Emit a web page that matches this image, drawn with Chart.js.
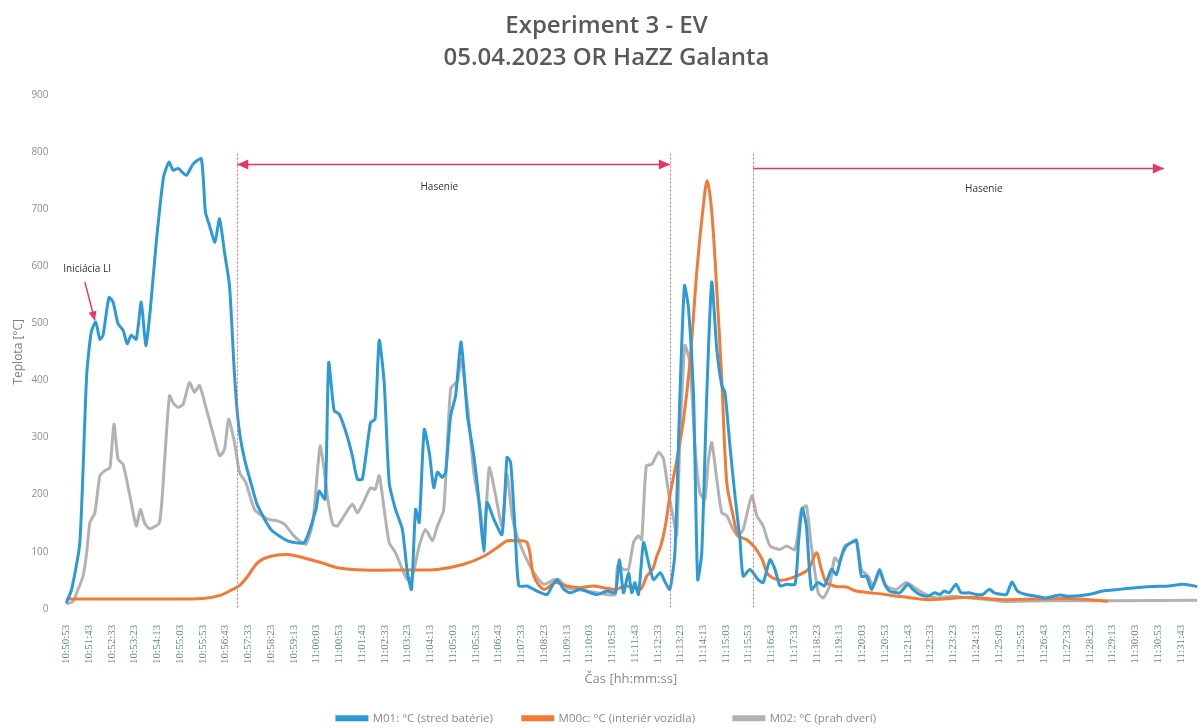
<!DOCTYPE html>
<html>
<head>
<meta charset="utf-8">
<script src="https://cdn.jsdelivr.net/npm/chart.js@4.4.1/dist/chart.umd.min.js"></script>
<style>
  html, body { margin: 0; padding: 0; background: #fff; }
  #wrap { width: 1202px; height: 728px; }
</style>
</head>
<body>
<div id="wrap"><canvas id="experiment-chart" width="1202" height="728"></canvas></div>
<script>
// time axis: seconds after 10:50:53
var startClock = 10 * 3600 + 50 * 60 + 53;
var tickStep = 50;
var tickCount = 50;

// M01: °C (stred batérie)
var m01Time = [0, 12, 30, 45, 55, 65, 74, 81, 94, 103, 114, 125, 134, 143, 154, 165, 175, 185, 198, 214, 226, 235, 246, 264, 279, 297, 306, 315, 327, 337, 348, 359, 370, 379, 392, 410, 421, 450, 487, 523, 549, 556, 569, 577, 589, 600, 615, 629, 640, 651, 669, 679, 688, 699, 710, 724, 739, 750, 759, 768, 776, 787, 798, 808, 816, 827, 834, 845, 856, 868, 882, 896, 907, 918, 925, 940, 958, 969, 977, 987, 995, 1013, 1035, 1057, 1068, 1079, 1094, 1108, 1130, 1152, 1167, 1189, 1207, 1216, 1225, 1236, 1243, 1250, 1258, 1269, 1280, 1291, 1306, 1317, 1327, 1338, 1349, 1359, 1368, 1379, 1388, 1397, 1408, 1419, 1430, 1441, 1448, 1459, 1470, 1481, 1488, 1503, 1521, 1532, 1547, 1558, 1569, 1583, 1602, 1610, 1618, 1627, 1638, 1653, 1667, 1682, 1693, 1704, 1715, 1726, 1737, 1748, 1759, 1770, 1777, 1788, 1799, 1810, 1832, 1850, 1861, 1876, 1894, 1909, 1920, 1930, 1941, 1956, 1967, 1985, 2000, 2015, 2029, 2040, 2058, 2067, 2079, 2091, 2110, 2132, 2154, 2183, 2205, 2248, 2278, 2314, 2351, 2387, 2424, 2457, 2486];
var m01Temp = [10, 34, 116, 409, 484, 502, 472, 479, 545, 537, 499, 488, 464, 479, 472, 537, 461, 525, 642, 756, 782, 768, 771, 759, 779, 788, 695, 671, 642, 683, 624, 566, 409, 321, 262, 209, 180, 139, 119, 116, 174, 206, 192, 431, 347, 341, 309, 268, 227, 227, 326, 332, 470, 396, 221, 174, 139, 63, 34, 174, 151, 314, 274, 212, 239, 230, 239, 338, 373, 467, 338, 268, 192, 101, 186, 157, 130, 265, 256, 133, 40, 40, 31, 25, 40, 51, 34, 28, 34, 28, 25, 31, 28, 86, 28, 63, 28, 46, 25, 116, 81, 51, 63, 46, 34, 98, 373, 566, 525, 373, 51, 98, 373, 572, 455, 391, 379, 285, 198, 121, 57, 69, 51, 46, 86, 69, 40, 43, 43, 120, 176, 145, 34, 46, 40, 69, 60, 92, 110, 116, 119, 57, 57, 34, 46, 69, 43, 31, 28, 43, 34, 25, 22, 28, 25, 31, 28, 43, 28, 28, 25, 25, 34, 28, 25, 25, 47, 31, 25, 22, 19, 24, 22, 25, 31, 34, 37, 39, 40, 43, 39];

// M00c: °C (interiér vozidla)
var m00Time = [0, 100, 200, 300, 340, 366, 380, 399, 421, 450, 487, 523, 560, 596, 655, 743, 816, 874, 918, 947, 969, 987, 1013, 1028, 1050, 1075, 1101, 1130, 1159, 1181, 1207, 1232, 1262, 1276, 1289, 1298, 1307, 1317, 1327, 1342, 1357, 1371, 1386, 1399, 1409, 1419, 1430, 1441, 1452, 1466, 1477, 1496, 1514, 1530, 1543, 1569, 1598, 1631, 1649, 1660, 1671, 1693, 1715, 1737, 1781, 1839, 1898, 1985, 2058, 2205, 2290];
var m00Temp = [17, 17, 17, 18, 24, 34, 40, 57, 81, 92, 95, 89, 81, 72, 68, 68, 69, 78, 92, 107, 119, 119, 116, 57, 34, 46, 40, 37, 40, 37, 34, 40, 34, 57, 69, 92, 110, 145, 198, 260, 332, 431, 589, 695, 750, 695, 560, 402, 221, 163, 128, 121, 107, 86, 60, 50, 55, 69, 98, 69, 46, 39, 38, 31, 27, 21, 16, 20, 16, 18, 13];

// M02: °C (prah dverí)
var m02Time = [0, 15, 26, 37, 45, 52, 63, 74, 85, 96, 105, 114, 125, 140, 154, 163, 172, 183, 205, 216, 227, 235, 246, 257, 271, 282, 293, 308, 322, 337, 348, 357, 370, 381, 395, 414, 443, 465, 480, 498, 512, 527, 542, 558, 567, 575, 586, 596, 611, 629, 640, 653, 669, 679, 688, 699, 710, 724, 739, 750, 761, 776, 790, 805, 816, 830, 845, 860, 868, 882, 896, 911, 918, 930, 944, 958, 969, 980, 991, 1009, 1028, 1050, 1072, 1083, 1101, 1123, 1145, 1167, 1189, 1207, 1212, 1225, 1236, 1247, 1258, 1265, 1275, 1287, 1302, 1313, 1324, 1335, 1342, 1349, 1360, 1371, 1382, 1393, 1404, 1411, 1419, 1430, 1441, 1452, 1466, 1477, 1488, 1507, 1518, 1532, 1547, 1569, 1583, 1602, 1616, 1627, 1638, 1653, 1664, 1678, 1689, 1700, 1711, 1726, 1737, 1748, 1763, 1774, 1788, 1803, 1825, 1846, 1865, 1883, 1912, 1949, 1985, 2029, 2058, 2150, 2300, 2486];
var m02Temp = [8, 13, 34, 57, 98, 151, 168, 233, 242, 247, 323, 262, 253, 198, 145, 174, 151, 140, 151, 256, 373, 361, 353, 358, 396, 379, 391, 350, 309, 268, 279, 332, 291, 239, 221, 174, 157, 154, 148, 130, 119, 113, 151, 285, 244, 192, 148, 145, 163, 183, 168, 186, 212, 209, 233, 174, 116, 98, 69, 51, 57, 110, 139, 119, 145, 174, 385, 399, 437, 356, 239, 168, 113, 247, 198, 145, 235, 163, 128, 92, 63, 43, 51, 51, 37, 34, 31, 28, 25, 25, 75, 69, 69, 116, 128, 121, 250, 253, 274, 262, 203, 157, 128, 297, 461, 431, 285, 203, 192, 256, 291, 227, 168, 163, 139, 128, 139, 198, 163, 145, 110, 104, 110, 104, 174, 180, 110, 28, 19, 40, 89, 81, 110, 116, 121, 69, 57, 40, 63, 40, 34, 46, 37, 28, 19, 22, 19, 16, 13, 14, 14, 15];

var yTicks = [0, 100, 200, 300, 400, 500, 600, 700, 800, 900];

// annotations (seconds / °C)
var quenchLines = [376, 1327, 1510];
var quenchArrows = [
    {from: 376, to: 1327, temp: 778, both: true, label: 'Hasenie', labelAt: 820, labelTemp: 738},
    {from: 1510, to: 2413, temp: 771, both: false, label: 'Hasenie', labelAt: 2017, labelTemp: 735}
];
var ignition = {label: 'Iniciácia LI', at: 46, temp: 595, arrowFrom: [41, 572], arrowTo: [63, 505]};

function toPoints(times, temps) {
    return times.map(function (t, i) { return {x: t, y: temps[i]}; });
}

function clockLabel(sec) {
    var s = startClock + Math.round(sec);
    var h = Math.floor(s / 3600), m = Math.floor(s / 60) % 60, ss = s % 60;
    return h + ':' + String(m).padStart(2, '0') + ':' + String(ss).padStart(2, '0');
}

function arrowHead(ctx, x, y, dir) {
    ctx.beginPath();
    ctx.moveTo(x, y);
    ctx.lineTo(x - dir * 11, y - 5);
    ctx.lineTo(x - dir * 11, y + 5);
    ctx.closePath();
    ctx.fill();
}

var notesPlugin = {
    id: 'notes',
    afterDatasetsDraw: function (chart) {
        var ctx = chart.ctx, x = chart.scales.x, y = chart.scales.y;
        ctx.save();
        // dotted lines
        ctx.strokeStyle = '#e56a95';
        ctx.lineWidth = 1;
        ctx.setLineDash([2, 2]);
        quenchLines.forEach(function (t) {
            var px = Math.round(x.getPixelForValue(t)) + 0.5;
            ctx.beginPath();
            ctx.moveTo(px, y.getPixelForValue(797));
            ctx.lineTo(px, y.getPixelForValue(0));
            ctx.stroke();
        });
        ctx.setLineDash([]);
        // arrows
        ctx.strokeStyle = '#e8346c';
        ctx.fillStyle = '#e8346c';
        ctx.lineWidth = 1.6;
        quenchArrows.forEach(function (a) {
            var x1 = x.getPixelForValue(a.from), x2 = x.getPixelForValue(a.to), py = y.getPixelForValue(a.temp);
            ctx.beginPath();
            ctx.moveTo(x1, py);
            ctx.lineTo(x2, py);
            ctx.stroke();
            arrowHead(ctx, x2, py, 1);
            if (a.both) arrowHead(ctx, x1, py, -1);
        });
        ctx.fillStyle = '#333';
        ctx.font = '10px "Open Sans"';
        ctx.textAlign = 'center';
        ctx.textBaseline = 'middle';
        quenchArrows.forEach(function (a) {
            ctx.fillText(a.label, x.getPixelForValue(a.labelAt), y.getPixelForValue(a.labelTemp));
        });
        // ignition note
        ctx.fillText(ignition.label, x.getPixelForValue(ignition.at), y.getPixelForValue(ignition.temp));
        var ax1 = x.getPixelForValue(ignition.arrowFrom[0]), ay1 = y.getPixelForValue(ignition.arrowFrom[1]);
        var ax2 = x.getPixelForValue(ignition.arrowTo[0]), ay2 = y.getPixelForValue(ignition.arrowTo[1]);
        ctx.strokeStyle = '#e8346c';
        ctx.fillStyle = '#e8346c';
        ctx.lineWidth = 1.5;
        ctx.beginPath();
        ctx.moveTo(ax1, ay1);
        ctx.lineTo(ax2, ay2);
        ctx.stroke();
        var ang = Math.atan2(ay2 - ay1, ax2 - ax1);
        ctx.beginPath();
        ctx.moveTo(ax2, ay2);
        ctx.lineTo(ax2 - 9 * Math.cos(ang) + 4 * Math.sin(ang), ay2 - 9 * Math.sin(ang) - 4 * Math.cos(ang));
        ctx.lineTo(ax2 - 9 * Math.cos(ang) - 4 * Math.sin(ang), ay2 - 9 * Math.sin(ang) + 4 * Math.cos(ang));
        ctx.closePath();
        ctx.fill();
        ctx.restore();
    }
};

var chartElement = document.getElementById('experiment-chart');
var ctx = chartElement.getContext('2d');
var chart = new Chart(ctx, {
    type: 'line',
    data: {
        datasets: [{
            label: 'M01: °C (stred batérie)',
            data: toPoints(m01Time, m01Temp),
            borderColor: '#2d9ad6',
            backgroundColor: '#2d9ad6',
            borderWidth: 3,
            pointRadius: 0,
            tension: 0.2
        }, {
            label: 'M00c: °C (interiér vozidla)',
            data: toPoints(m00Time, m00Temp),
            borderColor: '#f07a36',
            backgroundColor: '#f07a36',
            borderWidth: 3,
            pointRadius: 0,
            tension: 0.3
        }, {
            label: 'M02: °C (prah dverí)',
            data: toPoints(m02Time, m02Temp),
            borderColor: '#b2b2b2',
            backgroundColor: '#b2b2b2',
            borderWidth: 3,
            pointRadius: 0,
            tension: 0.2
        }]
    },
    options: {
        responsive: false,
        animation: false,
        layout: {padding: {left: 11, right: 0, top: 0, bottom: -6}},
        plugins: {
            title: {
                display: true,
                text: ['Experiment 3 - EV', '05.04.2023 OR HaZZ Galanta'],
                color: '#595959',
                font: {family: '"Open Sans"', size: 24, weight: '600', lineHeight: 1.35},
                padding: {top: 10, bottom: 20}
            },
            legend: {
                position: 'bottom',
                labels: {
                    color: '#8a8a8a',
                    boxWidth: 30,
                    boxHeight: 3,
                    padding: 6,
                    font: {family: '"Open Sans"', size: 11.5},
                    generateLabels: function (chart) {
                        var items = Chart.defaults.plugins.legend.labels.generateLabels(chart);
                        items.forEach(function (item, i) {
                            if (i === 0) item.text = item.text + '        ';
                            if (i === 1) item.text = item.text + '           ';
                        });
                        return items;
                    }
                }
            },
            tooltip: {enabled: false}
        },
        scales: {
            x: {
                type: 'linear',
                min: -8,
                max: 2490,
                grid: {display: false},
                border: {display: false},
                afterBuildTicks: function (axis) {
                    var list = [];
                    for (var i = 0; i < tickCount; i++) list.push({value: i * tickStep});
                    axis.ticks = list;
                },
                ticks: {
                    autoSkip: false,
                    maxRotation: 90,
                    minRotation: 90,
                    padding: 8,
                    color: '#5f8a7c',
                    font: {family: '"Liberation Serif"', size: 11},
                    callback: function (v) { return clockLabel(v); }
                },
                title: {
                    display: true,
                    text: 'Čas [hh:mm:ss]',
                    color: '#8a8a8a',
                    font: {family: '"Open Sans"', size: 13},
                    padding: {top: 0, bottom: 19}
                }
            },
            y: {
                min: 0,
                max: 900,
                grid: {display: false},
                border: {display: false},
                afterBuildTicks: function (axis) { axis.ticks = yTicks.map(function (v) { return {value: v}; }); },
                ticks: {
                    padding: 6,
                    color: '#8f8f8f',
                    font: {family: '"Open Sans"', size: 10}
                },
                title: {
                    display: true,
                    text: 'Teplota [°C]',
                    color: '#7f7f7f',
                    font: {family: '"Open Sans"', size: 12},
                    padding: {top: 0, bottom: 0}
                }
            }
        }
    },
    plugins: [notesPlugin]
});
</script>
</body>
</html>
